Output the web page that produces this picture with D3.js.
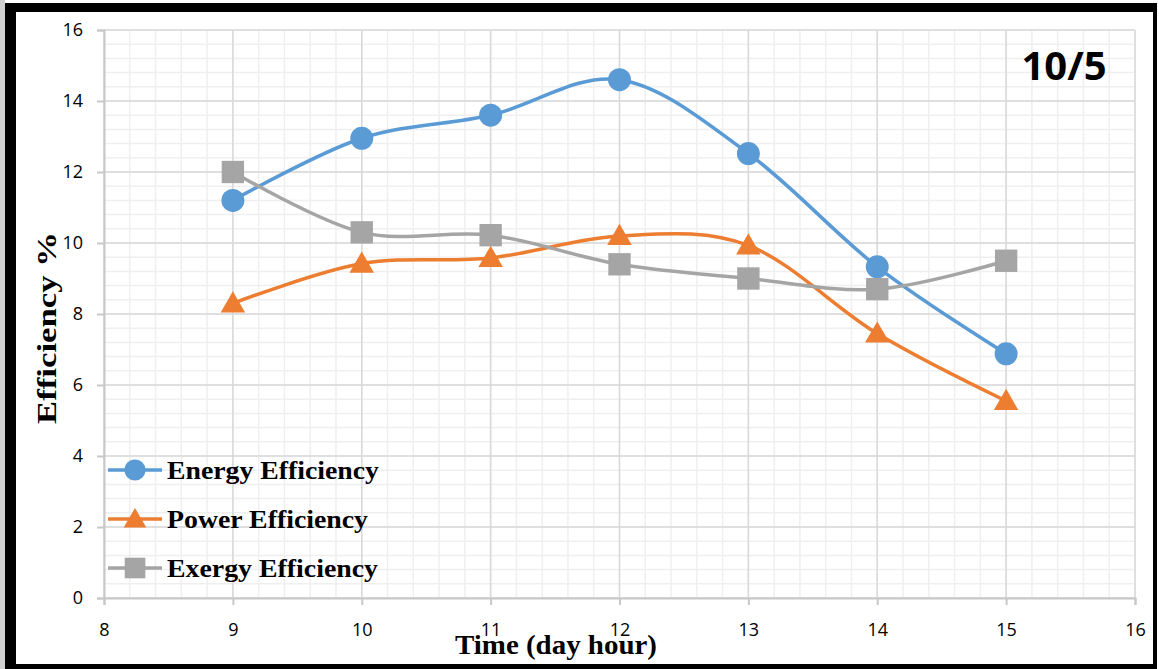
<!DOCTYPE html>
<html>
<head>
<meta charset="utf-8">
<script src="https://cdn.jsdelivr.net/npm/d3@7"></script>
<style>
  body { margin: 0; background: #fff; }
  svg { display: block; }
</style>
</head>
<body>
<div id="chart"></div>
<script>
// Chart data
var hours = [9, 10, 11, 12, 13, 14, 15];
var energyEff = [11.2, 12.95, 13.6, 14.6, 12.52, 9.33, 6.88];
var powerEff = [8.3, 9.42, 9.58, 10.2, 9.93, 7.45, 5.55];
var exergyEff = [12.0, 10.3, 10.22, 9.4, 9.0, 8.7, 9.5];
var xTicks = [8, 9, 10, 11, 12, 13, 14, 15, 16];
var yTicks = [0, 2, 4, 6, 8, 10, 12, 14, 16];
var seriesNames = ["Energy Efficiency", "Power Efficiency", "Exergy Efficiency"];

var svgWidth = 1159;
var svgHeight = 669;

var cM = { top: 30, right: 24, bottom: 71, left: 104 };
var cW = svgWidth - cM.left - cM.right;
var cH = svgHeight - cM.top - cM.bottom;

var svg = d3.select("#chart")
    .append("svg")
    .attr("width", svgWidth)
    .attr("height", svgHeight);

// Outer black frame
svg.append("rect").attr("x", 0).attr("y", 0).attr("width", 5).attr("height", svgHeight).attr("fill", "#d0d0d0");
svg.append("path")
    .attr("d", "M5,3 H1157 V669 H5 Z M16,12 V664 H1153 V12 Z")
    .attr("fill", "#000")
    .attr("fill-rule", "evenodd");

var chartGroup = svg.append("g")
    .attr("transform", `translate(${cM.left}, ${cM.top})`);

var xScale = d3.scaleLinear().domain([8, 16]).range([0, cW]);
var yScale = d3.scaleLinear().domain([0, 16]).range([cH, 0]);

// Minor grid
var minorX = d3.range(8, 16.001, 0.2);
var minorY = d3.range(0, 16.001, 0.4);
chartGroup.append("g").selectAll("line")
    .data(minorX).enter().append("line")
    .attr("x1", d => xScale(d)).attr("x2", d => xScale(d))
    .attr("y1", 0).attr("y2", cH)
    .attr("stroke", "#efefef").attr("stroke-width", 1.5);
chartGroup.append("g").selectAll("line")
    .data(minorY).enter().append("line")
    .attr("y1", d => yScale(d)).attr("y2", d => yScale(d))
    .attr("x1", 0).attr("x2", cW)
    .attr("stroke", "#efefef").attr("stroke-width", 1.5);

// Major grid
chartGroup.append("g").selectAll("line")
    .data(xTicks).enter().append("line")
    .attr("x1", d => xScale(d)).attr("x2", d => xScale(d))
    .attr("y1", 0).attr("y2", cH)
    .attr("stroke", "#d9d9d9").attr("stroke-width", 1.5);
chartGroup.append("g").selectAll("line")
    .data(yTicks).enter().append("line")
    .attr("y1", d => yScale(d)).attr("y2", d => yScale(d))
    .attr("x1", 0).attr("x2", cW)
    .attr("stroke", "#d9d9d9").attr("stroke-width", 1.5);

// Axes
var bottomAxis = d3.axisBottom(xScale).tickValues(xTicks).tickSize(7).tickPadding(18).tickFormat(d3.format("d"));
var leftAxis = d3.axisLeft(yScale).tickValues(yTicks).tickSize(7).tickPadding(14).tickFormat(d3.format("d"));

var xAxisG = chartGroup.append("g")
    .attr("transform", `translate(0, ${cH})`)
    .call(bottomAxis);
var yAxisG = chartGroup.append("g").call(leftAxis);

[xAxisG, yAxisG].forEach(function(g) {
    g.select(".domain").attr("stroke", "#c8c8c8").attr("stroke-width", 2);
    g.selectAll(".tick line").attr("stroke", "#c8c8c8").attr("stroke-width", 2);
    g.selectAll(".tick text")
        .attr("fill", "#000")
        .style("font-family", "'Open Sans', 'Noto Sans', sans-serif")
        .style("font-size", "18px");
});

// Series
var series = [
    { name: seriesNames[0], values: energyEff, color: "#5b9bd5", shape: d3.symbolCircle, size: 415, width: 212 },
    { name: seriesNames[1], values: powerEff, color: "#ed7d31", shape: d3.symbolTriangle, size: 260, width: 201 },
    { name: seriesNames[2], values: exergyEff, color: "#a5a5a5", shape: d3.symbolSquare, size: 500, width: 211 }
];

var line = d3.line()
    .x(d => xScale(d[0]))
    .y(d => yScale(d[1]))
    .curve(d3.curveCardinal.tension(0));

series.forEach(function(s) {
    var pts = hours.map((h, i) => [h, s.values[i]]);
    chartGroup.append("path")
        .datum(pts)
        .attr("d", line)
        .attr("fill", "none")
        .attr("stroke", s.color)
        .attr("stroke-width", 3.5);
});

series.forEach(function(s) {
    var pts = hours.map((h, i) => [h, s.values[i]]);
    chartGroup.append("g").selectAll("path")
        .data(pts).enter().append("path")
        .attr("d", d3.symbol().type(s.shape).size(s.size))
        .attr("transform", d => `translate(${xScale(d[0])}, ${yScale(d[1]) + (s.shape === d3.symbolTriangle ? 2 : 0)})`)
        .attr("fill", s.color);
});

// Legend
var legend = svg.append("g").attr("transform", "translate(108, 470)");
series.forEach(function(s, i) {
    var row = legend.append("g").attr("transform", `translate(0, ${i * 49})`);
    row.append("line")
        .attr("x1", 0).attr("x2", 54).attr("y1", 0).attr("y2", 0)
        .attr("stroke", s.color).attr("stroke-width", 3.5);
    row.append("path")
        .attr("d", d3.symbol().type(s.shape).size(s.size * 0.85))
        .attr("transform", `translate(27, ${s.shape === d3.symbolTriangle ? 2 : 0})`)
        .attr("fill", s.color);
    row.append("text")
        .attr("x", 59).attr("y", 9)
        .attr("textLength", s.width)
        .attr("lengthAdjust", "spacingAndGlyphs")
        .style("font-family", "'Liberation Serif', 'DejaVu Serif', serif")
        .style("font-weight", "bold")
        .style("font-size", "25px")
        .text(s.name);
});

// Axis titles
svg.append("text")
    .attr("x", 556).attr("y", 654)
    .attr("text-anchor", "middle")
    .attr("textLength", 202)
    .attr("lengthAdjust", "spacingAndGlyphs")
    .style("font-family", "'Liberation Serif', 'DejaVu Serif', serif")
    .style("font-weight", "bold")
    .style("font-size", "28px")
    .text("Time (day hour)");

svg.append("text")
    .attr("transform", "translate(56, 328) rotate(-90)")
    .attr("text-anchor", "middle")
    .attr("textLength", 192)
    .attr("lengthAdjust", "spacingAndGlyphs")
    .style("font-family", "'Liberation Serif', 'DejaVu Serif', serif")
    .style("font-weight", "bold")
    .style("font-size", "28px")
    .text("Efficiency %");

// Date label
svg.append("text")
    .attr("x", 1064).attr("y", 80)
    .attr("text-anchor", "middle")
    .style("font-family", "'Open Sans', 'Noto Sans', sans-serif")
    .style("font-weight", "bold")
    .style("font-size", "40px")
    .text("10/5");
</script>
</body>
</html>
